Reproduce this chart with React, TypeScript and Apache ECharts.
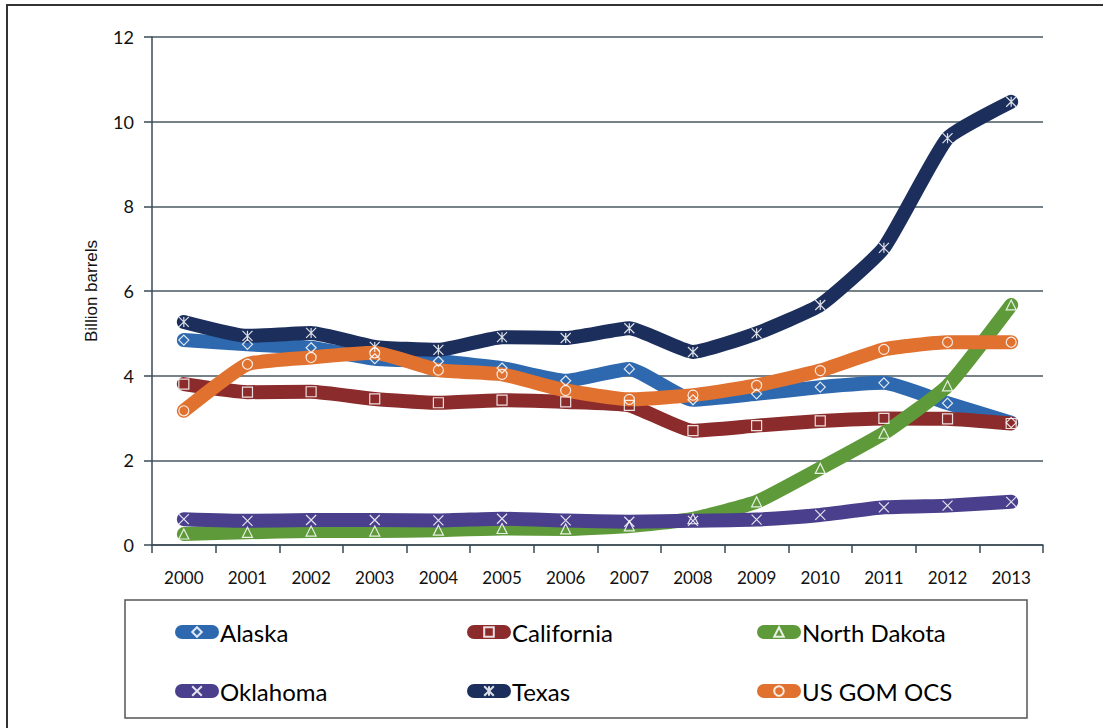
import React, { useEffect, useRef } from "react";
import * as echarts from "echarts";

const years = ["2000", "2001", "2002", "2003", "2004", "2005", "2006", "2007", "2008", "2009", "2010", "2011", "2012", "2013"];
const alaska = [4.84, 4.74, 4.66, 4.4, 4.34, 4.18, 3.88, 4.16, 3.43, 3.57, 3.73, 3.83, 3.35, 2.89];
const california = [3.8, 3.61, 3.62, 3.45, 3.36, 3.42, 3.38, 3.3, 2.7, 2.82, 2.93, 2.99, 2.98, 2.87];
const northDakota = [0.26, 0.3, 0.33, 0.33, 0.35, 0.39, 0.38, 0.45, 0.62, 1.02, 1.81, 2.64, 3.76, 5.67];
const oklahoma = [0.61, 0.57, 0.59, 0.59, 0.58, 0.62, 0.58, 0.55, 0.57, 0.6, 0.71, 0.89, 0.93, 1.02];
const texas = [5.27, 4.94, 5.01, 4.68, 4.61, 4.91, 4.89, 5.12, 4.56, 5.0, 5.67, 7.02, 9.61, 10.47];
const gom = [3.17, 4.27, 4.43, 4.54, 4.13, 4.03, 3.65, 3.44, 3.54, 3.77, 4.12, 4.62, 4.79, 4.79];
const yTicks = [0, 2, 4, 6, 8, 10, 12];

const seriesDefs = [
  { name: "Alaska", data: alaska, color: "#2E69B0", symbol: "diamond" },
  { name: "California", data: california, color: "#8C2B2B", symbol: "rect" },
  { name: "North Dakota", data: northDakota, color: "#5F9A3A", symbol: "triangle" },
  { name: "Oklahoma", data: oklahoma, color: "#4A3F8C", symbol: "path://M0,0L10,10M10,0L0,10" },
  { name: "Texas", data: texas, color: "#1C2F5C", symbol: "path://M0,0L10,10M10,0L0,10M5,0L5,10" },
  { name: "US GOM OCS", data: gom, color: "#E0712F", symbol: "circle" },
];

const legendPos = [
  { name: "Alaska", left: 175, top: 620 },
  { name: "California", left: 467, top: 620 },
  { name: "North Dakota", left: 757, top: 620 },
  { name: "Oklahoma", left: 175, top: 679 },
  { name: "Texas", left: 467, top: 679 },
  { name: "US GOM OCS", left: 757, top: 679 },
];

export default function App() {
  const ref = useRef<HTMLDivElement>(null);
  useEffect(() => {
    if (!ref.current) return;
    const chart = echarts.init(ref.current, null, { renderer: "svg" });
    chart.setOption({
      animation: false,
      backgroundColor: "#ffffff",
      grid: { left: 152, right: 60, top: 37, bottom: 183 },
      xAxis: {
        type: "category",
        data: years,
        boundaryGap: true,
        axisLine: { lineStyle: { color: "#3a4a55", width: 1.5 } },
        axisTick: { show: true, length: 8, lineStyle: { color: "#3a4a55", width: 1.5 } },
        axisLabel: { color: "#111", fontSize: 17, fontFamily: "Lato", margin: 24 },
        splitLine: { show: false },
      },
      yAxis: {
        type: "value",
        min: 0,
        max: 12,
        interval: 2,
        name: "Billion barrels",
        nameLocation: "middle",
        nameRotate: 90,
        nameGap: 52,
        nameTextStyle: { color: "#111", fontSize: 17, fontFamily: "Liberation Sans" },
        axisLine: { show: true, lineStyle: { color: "#3a4a55", width: 1.5 } },
        axisTick: { show: true, inside: false, length: 8, lineStyle: { color: "#3a4a55", width: 1.5 } },
        axisLabel: {
          color: "#111",
          fontSize: 18,
          fontFamily: "Lato",
          margin: 18,
          formatter: (v: number) => (yTicks.includes(v) ? String(v) : ""),
        },
        splitLine: { show: true, lineStyle: { color: "#4a5860", width: 1.5 } },
      },
      legend: legendPos.map((l) => ({
        data: [l.name],
        left: l.left,
        top: l.top,
        padding: 0,
        itemWidth: 30,
        itemHeight: 12,
        itemGap: 0,
        lineStyle: { width: 14, cap: "round" },
        textStyle: { color: "#000", fontSize: 24, fontFamily: "Lato", padding: [0, 0, 0, 3] },
      })),
      graphic: [
        {
          type: "rect",
          shape: { x: 7, y: 5, width: 1200, height: 800 },
          style: { fill: "none", stroke: "#333", lineWidth: 2 },
          silent: true,
        },
        {
          type: "rect",
          shape: { x: 125, y: 600, width: 902, height: 118 },
          style: { fill: "none", stroke: "#555", lineWidth: 1.5 },
          silent: true,
        },
      ],
      series: seriesDefs.map((s) => ({
        name: s.name,
        type: "line",
        data: s.data,
        smooth: 0.15,
        symbol: s.symbol,
        symbolSize: 10,
        showSymbol: true,
        lineStyle: { color: s.color, width: 14, cap: "round", join: "round" },
        itemStyle: { color: "rgba(0,0,0,0)", borderColor: "rgba(255,255,255,0.85)", borderWidth: 1.2 },
        emphasis: { disabled: true },
        z: 2,
      })),
    });
    return () => chart.dispose();
  }, []);
  return <div ref={ref} style={{ position: "fixed", left: 0, top: 0, width: 1103, height: 728 }} />;
}
